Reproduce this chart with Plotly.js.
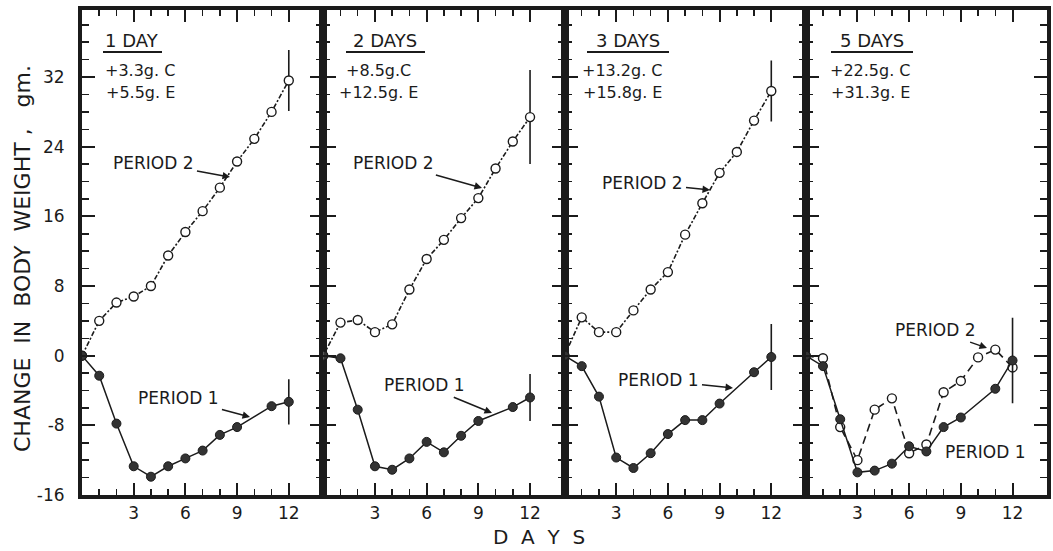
<!DOCTYPE html>
<html>
<head>
<meta charset="utf-8">
<script src="https://cdn.plot.ly/plotly-3.0.1.min.js"></script>
<style>html,body{margin:0;padding:0;background:#fff;}#chart{width:1053px;height:551px;}</style>
</head>
<body>
<div id="chart"></div>
<script>
// ---- data ----
const daysP2 = [0,1,2,3,4,5,6,7,8,9,10,11,12];
const daysP1 = [0,1,2,3,4,5,6,7,8,9,11,12];

const panelTitles = ['1 DAY', '2 DAYS', '3 DAYS', '5 DAYS'];
const gainC = ['+3.3g. C', '+8.5g.C', '+13.2g. C', '+22.5g. C'];
const gainE = ['+5.5g. E', '+12.5g. E', '+15.8g. E', '+31.3g. E'];

// Period 2 (open circles, dashed)
const period2_1day = [0, 4.0, 6.1, 6.8, 8.0, 11.5, 14.2, 16.6, 19.3, 22.3, 24.9, 28.0, 31.6];
const period2_2day = [0, 3.8, 4.1, 2.7, 3.6, 7.6, 11.1, 13.3, 15.8, 18.1, 21.5, 24.6, 27.4];
const period2_3day = [0, 4.4, 2.7, 2.7, 5.2, 7.6, 9.6, 13.9, 17.5, 21.0, 23.4, 27.0, 30.4];
const period2_5day = [0, -0.3, -8.2, -12.0, -6.2, -4.9, -11.2, -10.2, -4.2, -2.9, -0.2, 0.7, -1.35];

// Period 1 (filled circles, solid)
const period1_1day = [0, -2.3, -7.8, -12.7, -13.9, -12.7, -11.8, -10.9, -9.1, -8.2, -5.8, -5.3];
const period1_2day = [0, -0.3, -6.2, -12.7, -13.1, -11.8, -9.9, -11.1, -9.2, -7.5, -5.9, -4.8];
const period1_3day = [0, -1.2, -4.7, -11.7, -12.9, -11.2, -9.0, -7.4, -7.4, -5.5, -1.9, -0.15];
const period1_5day = [0, -1.2, -7.3, -13.4, -13.2, -12.4, -10.4, -11.0, -8.2, -7.1, -3.8, -0.55];

// error bar half-lengths at day 12
const errP2 = [3.5, 5.4, 3.5, 0];
const errP1 = [2.6, 2.7, 3.8, 4.9];

const yTicks = [-16, -8, 0, 8, 16, 24, 32];
const yTickText = ['-16', '-8', '0', '8', '16', '24', '32'];
const yMinor = [-14, -12, -10, -6, -4, -2, 2, 4, 6, 10, 12, 14, 18, 20, 22, 26, 28, 30, 34, 36, 38];
const xTicks = [3, 6, 9, 12];
const xTickText = ['3', '6', '9', '12'];
const xMinor = [1, 2, 4, 5, 7, 8, 10, 11];

// ---- build ----
const P2 = [period2_1day, period2_2day, period2_3day, period2_5day];
const P1 = [period1_1day, period1_2day, period1_3day, period1_5day];
const INK = '#1b1b1b';
const FONT = 'DejaVu Sans, Liberation Sans, sans-serif';

function lastOnly(n, v) { const a = new Array(n).fill(0); a[n - 1] = v; return a; }

const traces = [];
for (let i = 0; i < 4; i++) {
  const xa = i === 0 ? 'x' : 'x' + (i + 1);
  const ya = i === 0 ? 'y' : 'y' + (i + 1);
  traces.push({
    x: daysP2, y: P2[i], xaxis: xa, yaxis: ya, type: 'scatter', mode: 'lines+markers',
    line: {color: INK, width: 1.6, dash: i === 3 ? '8px,5px' : '5px,2px,2px,2px'},
    marker: {symbol: 'circle', size: 9, color: '#ffffff', line: {color: INK, width: 1.4}},
    error_y: {type: 'data', array: lastOnly(daysP2.length, errP2[i]), visible: true, color: INK, thickness: 1.6, width: 0},
    showlegend: false, hoverinfo: 'skip'
  });
  traces.push({
    x: daysP1, y: P1[i], xaxis: xa, yaxis: ya, type: 'scatter', mode: 'lines+markers',
    line: {color: INK, width: 1.5},
    marker: {symbol: 'circle', size: 9, color: '#333333', line: {color: INK, width: 1}},
    error_y: {type: 'data', array: lastOnly(daysP1.length, errP1[i]), visible: true, color: INK, thickness: 1.6, width: 0},
    showlegend: false, hoverinfo: 'skip'
  });
}

const W = 1053, H = 551, ML = 82, MR = 6, MT = 10, MB = 56;
const PW = W - ML - MR, PH = H - MT - MB;
const px = v => (v - ML) / PW;
const py = v => (H - MB - v) / PH;

const layout = {
  width: W, height: H,
  margin: {l: ML, r: MR, t: MT, b: MB, pad: 0},
  paper_bgcolor: '#fff', plot_bgcolor: '#fff',
  font: {family: FONT, size: 17, color: INK},
  showlegend: false,
  annotations: [], shapes: []
};

for (let i = 0; i < 4; i++) {
  const xk = i === 0 ? 'xaxis' : 'xaxis' + (i + 1);
  const yk = i === 0 ? 'yaxis' : 'yaxis' + (i + 1);
  const xa = i === 0 ? 'x' : 'x' + (i + 1);
  const ya = i === 0 ? 'y' : 'y' + (i + 1);
  layout[xk] = {
    domain: [i * 0.25, (i + 1) * 0.25], range: [0, 14], anchor: ya,
    tickmode: 'array', tickvals: xTicks, ticktext: xTickText,
    ticks: 'inside', ticklen: 12, tickwidth: 2, tickcolor: INK,
    minor: {tickmode: 'array', tickvals: xMinor, ticks: 'inside', ticklen: 6, tickwidth: 1.5, tickcolor: INK},
    showline: true, linewidth: 4, linecolor: INK, mirror: 'allticks',
    showgrid: false, zeroline: false,
    tickfont: {family: FONT, size: 17, color: INK}
  };
  layout[yk] = {
    domain: [0, 1], range: [-16, 39.7], anchor: xa,
    tickmode: 'array', tickvals: yTicks, ticktext: yTickText,
    ticks: 'inside', ticklen: 13, tickwidth: 2, tickcolor: INK,
    minor: {tickmode: 'array', tickvals: yMinor, ticks: 'inside', ticklen: 7, tickwidth: 1.5, tickcolor: INK},
    showline: true, linewidth: 4, linecolor: INK, mirror: 'allticks',
    showticklabels: i === 0, ticklabelstandoff: 10,
    showgrid: false, zeroline: false,
    tickfont: {family: FONT, size: 17, color: INK}
  };
}

// panel headers
const headX = [132, 385, 628, 872];
const headLine = [[103, 162], [346, 425], [587, 669], [831, 913]];
const gainX = [140, 378, 622, 870];
for (let i = 0; i < 4; i++) {
  layout.annotations.push({xref: 'paper', yref: 'paper', x: px(headX[i]), y: py(40), text: panelTitles[i],
    showarrow: false, xanchor: 'center', yanchor: 'middle', font: {family: FONT, size: 18, color: INK}});
  layout.annotations.push({xref: 'paper', yref: 'paper', x: px(gainX[i]), y: py(70), text: gainC[i],
    showarrow: false, xanchor: 'center', yanchor: 'middle', font: {family: FONT, size: 16, color: INK}});
  layout.annotations.push({xref: 'paper', yref: 'paper', x: px(gainX[i]), y: py(93), text: gainE[i],
    showarrow: false, xanchor: 'center', yanchor: 'middle', font: {family: FONT, size: 16, color: INK}});
  layout.shapes.push({type: 'line', xref: 'paper', yref: 'paper', x0: px(headLine[i][0]), x1: px(headLine[i][1]),
    y0: py(52), y1: py(52), line: {color: INK, width: 2}});
}

// PERIOD labels: [text, text center x, y, arrow head x, y]
const periodLabels = [
  ['PERIOD 2', 153, 163, 230, 177],
  ['PERIOD 1', 178, 398, 250, 417],
  ['PERIOD 2', 393, 163, 482, 188],
  ['PERIOD 1', 424, 385, 492, 413],
  ['PERIOD 2', 642, 183, 710, 190],
  ['PERIOD 1', 658, 380, 733, 388],
  ['PERIOD 2', 935, 330, 987, 348],
  ['PERIOD 1', 985, 452, 943, 447]
];
periodLabels.forEach(p => {
  layout.annotations.push({xref: 'paper', yref: 'paper', x: px(p[3]), y: py(p[4]),
    ax: p[1] - p[3], ay: p[2] - p[4], axref: 'pixel', ayref: 'pixel',
    text: p[0], showarrow: true, arrowhead: 2, arrowsize: 1, arrowwidth: 1.5, arrowcolor: INK,
    standoff: 0, startstandoff: 2, font: {family: FONT, size: 17, color: INK}});
});

// axis titles
layout.annotations.push({xref: 'paper', yref: 'paper', x: px(22), y: py(259), textangle: -90,
  text: 'CHANGE\u00A0\u00A0IN\u00A0\u00A0BODY\u00A0\u00A0WEIGHT\u00A0,\u00A0\u00A0\u00A0gm.', showarrow: false,
  xanchor: 'center', yanchor: 'middle', font: {family: FONT, size: 22, color: INK}});
layout.annotations.push({xref: 'paper', yref: 'paper', x: px(539), y: py(537),
  text: 'D\u00A0\u00A0A\u00A0\u00A0Y\u00A0\u00A0S', showarrow: false,
  xanchor: 'center', yanchor: 'middle', font: {family: FONT, size: 20, color: INK}});

Plotly.newPlot('chart', traces, layout, {staticPlot: true, displayModeBar: false});
</script>
</body>
</html>
